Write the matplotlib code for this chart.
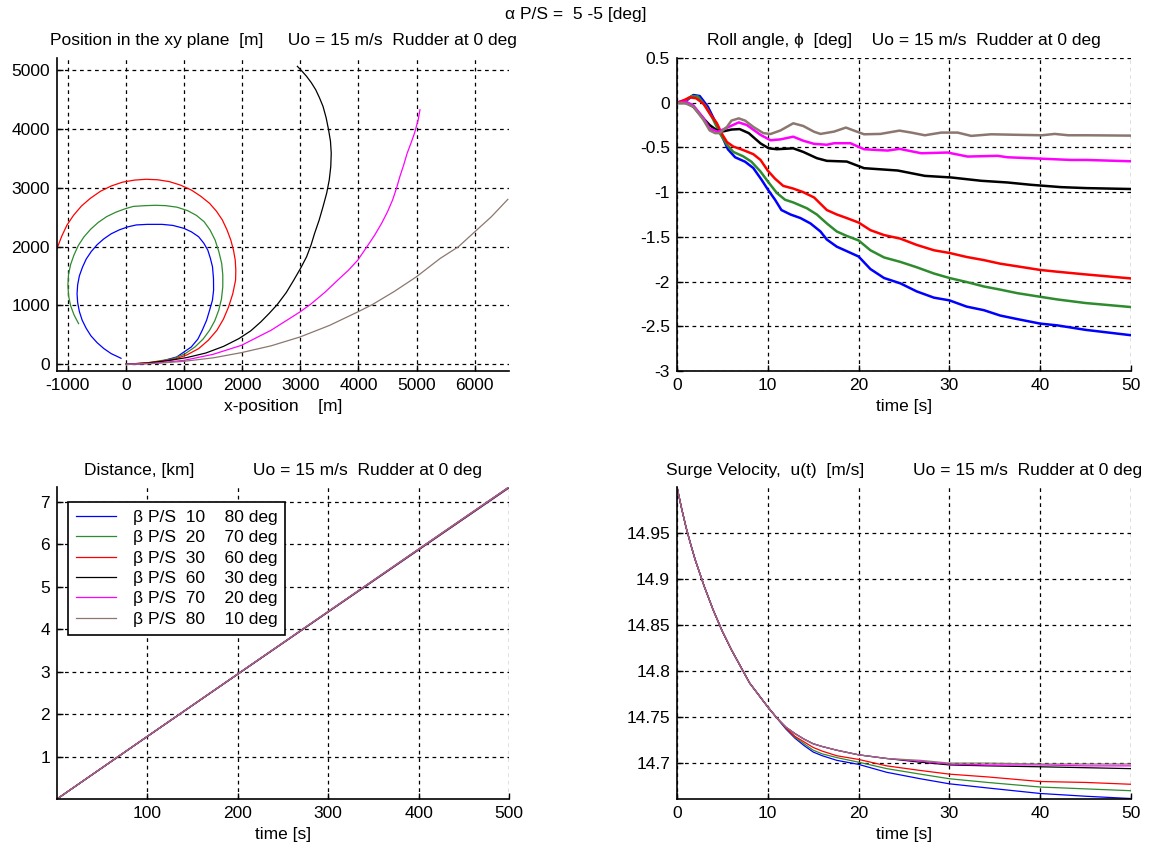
import matplotlib
matplotlib.use('Agg')
import matplotlib.pyplot as plt

plt.rcParams['font.family'] = ['Liberation Sans', 'DejaVu Sans']
plt.rcParams['font.size'] = 12.5
plt.rcParams['axes.unicode_minus'] = False

# ---------------- data ----------------
colors = ['#0000ff', '#2e8b2e', '#ff0000', '#000000', '#ff00ff', '#8b776f']
labels = ['\u03b2 P/S  10    80 deg', '\u03b2 P/S  20    70 deg', '\u03b2 P/S  30    60 deg',
          '\u03b2 P/S  60    30 deg', '\u03b2 P/S  70    20 deg', '\u03b2 P/S  80    10 deg']

# xy plane trajectories [m]
x_blue = [0, 300, 560, 875, 1126, 1240, 1315, 1390, 1441, 1490, 1510, 1508, 1491, 1455, 1410, 1340,
          1252, 1130, 1001, 810, 623, 371, 180, 33, -110, -251, -380, -494, -595, -681, -745,
          -798, -828, -838, -828, -798, -750, -681, -600, -494, -380, -251, -160, -82]
y_blue = [0, 10, 40, 125, 295, 430, 579, 750, 919, 1090, 1260, 1460, 1657, 1800, 1941, 2060,
          2168, 2250, 2310, 2360, 2378, 2378, 2368, 2335, 2285, 2218, 2130, 2031, 1915, 1788, 1650,
          1504, 1350, 1200, 1050, 896, 750, 612, 485, 369, 270, 182, 140, 103]
x_green = [0, 400, 812, 1020, 1189, 1330, 1441, 1530, 1598, 1645, 1668, 1668, 1649, 1600, 1536,
           1450, 1347, 1215, 1064, 880, 686, 510, 340, 130, -5, -170, -328, -475, -604, -720,
           -816, -890, -949, -985, -995, -985, -950, -890, -812]
y_green = [0, 30, 96, 180, 295, 430, 579, 740, 919, 1110, 1317, 1520, 1714, 1915, 2111,
           2280, 2423, 2530, 2611, 2670, 2696, 2702, 2696, 2683, 2645, 2585, 2510, 2410, 2295, 2165,
           2020, 1860, 1696, 1525, 1350, 1170, 1000, 840, 692]
x_red = [0, 400, 812, 1050, 1252, 1420, 1567, 1680, 1768, 1840, 1888, 1892, 1882, 1852, 1806,
         1740, 1661, 1560, 1441, 1290, 1126, 940, 749, 550, 352, 150, -56, -250, -436, -610, -762,
         -900, -1012, -1100, -1183]
y_red = [0, 30, 79, 160, 267, 410, 579, 770, 976, 1200, 1430, 1600, 1771, 1940, 2111,
         2285, 2452, 2600, 2735, 2855, 2962, 3045, 3104, 3135, 3144, 3130, 3095, 3030, 2940, 2820,
         2690, 2530, 2365, 2180, 1969]
x_black = [0, 350, 686, 1050, 1378, 1680, 1945, 2150, 2322, 2470, 2605, 2760, 2888, 3005, 3109,
           3185, 3247, 3325, 3392, 3455, 3499, 3525, 3533, 3520, 3486, 3445, 3392, 3330, 3266,
           3190, 3109, 3030, 2951]
y_black = [0, 20, 57, 115, 193, 305, 437, 570, 721, 870, 1016, 1220, 1430, 1630, 1827,
           2025, 2225, 2450, 2679, 2910, 3133, 3360, 3587, 3790, 3990, 4190, 4381, 4530, 4665,
           4785, 4892, 4980, 5062]
x_mag = [0, 500, 1001, 1500, 1989, 2500, 2996, 3172, 3420, 3644, 3830, 3990, 4147, 4280, 4399,
         4500, 4588, 4655, 4713, 4780, 4839, 4905, 4965, 5028, 5059]
y_mag = [0, 20, 68, 170, 323, 580, 891, 1016, 1220, 1430, 1600, 1771, 1998, 2195, 2395,
         2590, 2792, 2990, 3189, 3390, 3587, 3760, 3927, 4154, 4324]
x_brown = [0, 500, 994, 1500, 1989, 2500, 2996, 3500, 3990, 4241, 4620, 4997, 5406, 5720, 6003,
           6287, 6570]
y_brown = [0, 15, 51, 110, 199, 315, 465, 660, 891, 1016, 1240, 1487, 1799, 1998, 2253,
           2508, 2803]

# roll angle [deg]
t_blue = [0, 1, 1.8, 2.5, 3.4, 4.2, 4.9, 5.6, 6.4, 7.5, 8.4, 9.3, 10, 10.8, 11.5, 12.5, 13.6, 14.7,
          15.8, 16.5, 17.6, 18.7, 20, 21.3, 22.8, 24.6, 26.4, 28.3, 30, 31.9, 33.8, 35.6, 37.5, 40,
          41.9, 45, 50]
phi_blue = [0, 0.02, 0.086, 0.075, -0.045, -0.21, -0.36, -0.52, -0.61, -0.66, -0.73, -0.86, -0.97,
            -1.085, -1.2, -1.25, -1.29, -1.35, -1.44, -1.53, -1.61, -1.66, -1.72, -1.86, -1.96,
            -2.02, -2.11, -2.18, -2.21, -2.28, -2.32, -2.38, -2.42, -2.47, -2.49, -2.54, -2.6]
t_green = [0, 1, 1.6, 2.3, 3.2, 4.0, 4.7, 5.5, 6.2, 7.3, 8.2, 9.2, 10, 11, 11.9, 12.8, 14.3, 15.4,
           16.5, 17.6, 18.7, 20, 21.3, 22.8, 24.6, 26.4, 28.3, 30, 31.9, 33.8, 35.6, 37.5, 40,
           41.9, 45, 50]
phi_green = [0, 0.03, 0.075, 0.07, -0.045, -0.19, -0.34, -0.47, -0.55, -0.6, -0.66, -0.77, -0.88,
             -1.01, -1.085, -1.115, -1.18, -1.25, -1.35, -1.44, -1.49, -1.54, -1.65, -1.73, -1.78,
             -1.84, -1.91, -1.96, -2.005, -2.055, -2.09, -2.13, -2.17, -2.2, -2.24, -2.285]
t_red = [0, 0.8, 1.4, 2.1, 2.9, 3.6, 4.4, 4.9, 5.5, 6.2, 7.3, 8.4, 9.2, 10, 10.8, 11.7, 12.8, 13.9,
         15.1, 16.5, 17.6, 18.7, 20, 21.3, 22.8, 24.6, 26.4, 28.3, 30, 31.9, 33.8, 35.6, 37.5, 40,
         41.9, 45, 50]
phi_red = [0, 0.03, 0.06, 0.05, -0.01, -0.12, -0.23, -0.34, -0.44, -0.49, -0.53, -0.575, -0.64,
           -0.76, -0.85, -0.93, -0.96, -1.0, -1.06, -1.2, -1.25, -1.29, -1.34, -1.425, -1.48,
           -1.52, -1.59, -1.65, -1.68, -1.725, -1.76, -1.8, -1.83, -1.87, -1.89, -1.92, -1.965]
t_black = [0, 1, 1.8, 2.9, 3.6, 4.4, 5.1, 6.0, 6.9, 7.9, 9.2, 10.1, 11, 12.8, 13.9, 15.4, 16.5,
           18.7, 20.6, 24.3, 27.3, 30.2, 33.5, 36.4, 39, 42.3, 45.1, 50]
phi_black = [0, 0.0, -0.045, -0.175, -0.25, -0.31, -0.32, -0.30, -0.295, -0.34, -0.455, -0.51,
             -0.52, -0.51, -0.55, -0.62, -0.65, -0.658, -0.732, -0.758, -0.818, -0.836, -0.873,
             -0.892, -0.918, -0.944, -0.955, -0.965]
t_mag = [0, 1, 1.8, 2.9, 3.6, 4.5, 5.5, 6.8, 7.7, 9.2, 10.3, 11.4, 12.8, 13.9, 15.1, 16.5, 17.3,
         19.1, 20.6, 23.2, 24.5, 26.9, 29.8, 32, 35.3, 36.4, 39.7, 43.4, 45.1, 50]
phi_mag = [0, 0.01, -0.03, -0.17, -0.29, -0.325, -0.28, -0.22, -0.25, -0.36, -0.42, -0.41, -0.38,
           -0.425, -0.46, -0.47, -0.453, -0.453, -0.52, -0.535, -0.516, -0.565, -0.557, -0.602,
           -0.594, -0.61, -0.624, -0.64, -0.64, -0.655]
t_brown = [0, 1, 1.8, 2.9, 3.6, 4.2, 4.7, 5.5, 6.0, 6.8, 7.5, 8.4, 9.5, 10.3, 11.4, 12.8, 13.9, 15.1,
           15.8, 17.3, 18.6, 19.5, 20.6, 22.4, 24.5, 25.8, 27.3, 29.1, 30.9, 32.4, 34.6, 38, 40.2,
           41.6, 43.1, 45.1, 50]
phi_brown = [0, -0.01, -0.045, -0.19, -0.31, -0.34, -0.34, -0.27, -0.20, -0.175, -0.20, -0.27,
             -0.34, -0.35, -0.31, -0.23, -0.26, -0.325, -0.349, -0.323, -0.278, -0.312, -0.353,
             -0.349, -0.312, -0.334, -0.364, -0.334, -0.334, -0.371, -0.353, -0.36, -0.364,
             -0.349, -0.364, -0.364, -0.368]

# distance [km]
t_dist = [0, 100, 200, 300, 400, 500]
d_blue = [0, 1.473, 2.940, 4.405, 5.868, 7.330]
d_green = [0, 1.474, 2.942, 4.408, 5.872, 7.335]
d_red = [0, 1.475, 2.944, 4.411, 5.876, 7.340]
d_black = [0, 1.476, 2.946, 4.416, 5.886, 7.350]
d_mag = [0, 1.476, 2.946, 4.416, 5.886, 7.350]
d_brown = [0, 1.476, 2.946, 4.416, 5.886, 7.350]

# surge velocity [m/s]
t_u = [0, 0.5, 1, 1.5, 2, 3, 4, 5, 6, 7, 8, 9, 10, 11, 12, 13, 14, 15, 16, 17.6, 20, 23.1, 26.8,
       30, 34.2, 40, 45, 50]
u_blue = [15.0, 14.977, 14.956, 14.938, 14.921, 14.892, 14.866, 14.843, 14.823, 14.805, 14.787,
          14.774, 14.761, 14.749, 14.737, 14.727, 14.719, 14.712, 14.708, 14.703, 14.6986, 14.690,
          14.683, 14.6775, 14.673, 14.667, 14.664, 14.6615]
u_green = [15.0, 14.977, 14.956, 14.938, 14.921, 14.892, 14.866, 14.843, 14.823, 14.805, 14.787,
           14.774, 14.761, 14.749, 14.738, 14.728, 14.721, 14.714, 14.710, 14.706, 14.701, 14.694,
           14.688, 14.683, 14.679, 14.674, 14.672, 14.670]
u_red = [15.0, 14.977, 14.956, 14.938, 14.921, 14.892, 14.866, 14.843, 14.823, 14.805, 14.787,
         14.774, 14.761, 14.749, 14.738, 14.729, 14.723, 14.717, 14.713, 14.708, 14.704, 14.697,
         14.692, 14.688, 14.685, 14.680, 14.679, 14.677]
u_black = [15.0, 14.977, 14.956, 14.938, 14.921, 14.892, 14.866, 14.843, 14.823, 14.805, 14.787,
           14.774, 14.761, 14.749, 14.739, 14.732, 14.726, 14.721, 14.718, 14.714, 14.709, 14.705,
           14.701, 14.698, 14.697, 14.696, 14.695, 14.694]
u_mag = [15.0, 14.977, 14.956, 14.938, 14.921, 14.892, 14.866, 14.843, 14.823, 14.805, 14.787,
         14.774, 14.761, 14.749, 14.739, 14.732, 14.726, 14.721, 14.718, 14.714, 14.709, 14.705,
         14.702, 14.699, 14.698, 14.698, 14.697, 14.697]
u_brown = [15.0, 14.977, 14.956, 14.938, 14.921, 14.892, 14.866, 14.843, 14.823, 14.805, 14.787,
           14.774, 14.761, 14.749, 14.739, 14.732, 14.726, 14.721, 14.718, 14.714, 14.709, 14.705,
           14.703, 14.700, 14.700, 14.699, 14.699, 14.699]

xy = [(x_blue, y_blue), (x_green, y_green), (x_red, y_red),
      (x_black, y_black), (x_mag, y_mag), (x_brown, y_brown)]
roll = [(t_blue, phi_blue), (t_green, phi_green), (t_red, phi_red),
        (t_black, phi_black), (t_mag, phi_mag), (t_brown, phi_brown)]
dist = [d_blue, d_green, d_red, d_black, d_mag, d_brown]
surge = [u_blue, u_green, u_red, u_black, u_mag, u_brown]

# ---------------- figure ----------------
fig = plt.figure(figsize=(11.52, 8.51), dpi=100)
W, H = 1152., 851.

def make_ax(l, t, r, b):
    ax = fig.add_axes([l / W, 1 - b / H, (r - l) / W, (b - t) / H])
    for s in ['top', 'right']:
        ax.spines[s].set_visible(False)
    ax.spines['left'].set_linewidth(1.2)
    ax.spines['bottom'].set_linewidth(1.2)
    ax.tick_params(direction='in', length=4, width=1, pad=5, labelsize=12.5)
    ax.grid(True, color='k', linestyle=(0, (3, 3)), linewidth=0.9)
    ax.set_axisbelow(True)
    return ax

ax1 = make_ax(57, 58, 509, 371)
for (x, y), c in zip(xy, colors):
    ax1.plot(x, y, color=c, lw=0.9)
ax1.set_xlim(-1183, 6590)
ax1.set_ylim(-113, 5204)
ax1.set_xticks(range(-1000, 7000, 1000))
ax1.set_yticks(range(0, 6000, 1000))
ax1.set_xlabel('x-position    [m]', labelpad=4)
ax1.set_title('Position in the xy plane  [m]     Uo = 15 m/s  Rudder at 0 deg', fontsize=12.5, pad=9)

ax2 = make_ax(677, 58, 1131, 371)
for (t, p), c in zip(roll, colors):
    ax2.plot(t, p, color=c, lw=1.8)
ax2.set_xlim(0, 50)
ax2.set_ylim(-3, 0.5)
ax2.set_xticks(range(0, 60, 10))
ax2.set_yticks([0.5, 0, -0.5, -1, -1.5, -2, -2.5, -3])
ax2.set_yticklabels(['0.5', '0', '-0.5', '-1', '-1.5', '-2', '-2.5', '-3'])
ax2.set_xlabel('time [s]', labelpad=4)
ax2.set_title('Roll angle, \u03d5  [deg]    Uo = 15 m/s  Rudder at 0 deg', fontsize=12.5, pad=9)

ax3 = make_ax(57, 487, 509, 799)
for d, c, lab in zip(dist, colors, labels):
    ax3.plot(t_dist, d, color=c, lw=0.9, label=lab)
ax3.set_xlim(0, 500)
ax3.set_ylim(0, 7.35)
ax3.set_xticks(range(100, 600, 100))
ax3.set_yticks(range(1, 8))
ax3.set_xlabel('time [s]', labelpad=4)
ax3.set_title('Distance, [km]            Uo = 15 m/s  Rudder at 0 deg', fontsize=12.5, pad=9)
leg = ax3.legend(loc='upper left', bbox_to_anchor=(0.005, 0.98), fancybox=False, framealpha=1,
                 edgecolor='k', fontsize=12.5, handlelength=2.3, handletextpad=1.0,
                 labelspacing=0.3, borderpad=0.45)
leg.get_frame().set_linewidth(1.2)

ax4 = make_ax(677, 487, 1131, 799)
for u, c in zip(surge, colors):
    ax4.plot(t_u, u, color=c, lw=0.9)
ax4.set_xlim(0, 50)
ax4.set_ylim(14.661, 15.0)
ax4.set_xticks(range(0, 60, 10))
ax4.set_yticks([14.7, 14.75, 14.8, 14.85, 14.9, 14.95])
ax4.set_yticklabels(['14.7', '14.75', '14.8', '14.85', '14.9', '14.95'])
ax4.set_xlabel('time [s]', labelpad=4)
ax4.set_title('Surge Velocity,  u(t)  [m/s]          Uo = 15 m/s  Rudder at 0 deg', fontsize=12.5, pad=9)

fig.text(0.5, 1 - 15 / H, '\u03b1 P/S =  5 -5 [deg]', ha='center', va='center', fontsize=12.5)

fig.savefig('out.png', dpi=100)
